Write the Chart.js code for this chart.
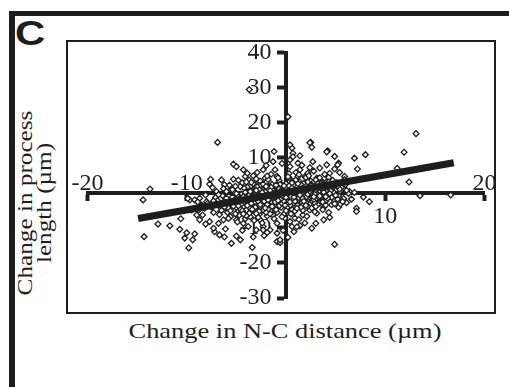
<!DOCTYPE html>
<html>
<head>
<meta charset="utf-8">
<script src="https://cdn.jsdelivr.net/npm/chart.js@4.4.1/dist/chart.umd.min.js"></script>
<style>
html,body{margin:0;padding:0;background:#fff;width:509px;height:387px;overflow:hidden;}
.ink{background:#1e1e1e;position:absolute;}
#frameTop{left:9px;top:11px;width:500px;height:5px;}
#frameLeft{left:9px;top:11px;width:6px;height:376px;}
#box{position:absolute;left:66px;top:40px;width:426px;height:270px;border:2px solid #1e1e1e;}
#panel{position:absolute;left:15.2px;top:15.4px;font:bold 35px "Liberation Sans",Arial,sans-serif;line-height:35px;color:#1e1e1e;transform:scaleX(1.2);transform-origin:0 0;}
#xtitle{position:absolute;left:284.5px;top:330.8px;font:22px "Liberation Serif","Times New Roman",serif;line-height:22px;white-space:nowrap;color:#1e1e1e;transform:translate(-50%,-50%) scaleX(1.2);}
#ytitle{position:absolute;left:34.7px;top:202.5px;font:21px "Liberation Serif","Times New Roman",serif;line-height:19px;white-space:nowrap;text-align:center;color:#1e1e1e;transform:translate(-50%,-50%) rotate(-90deg) scaleX(1.2);}
#c{position:absolute;left:0;top:0;}
</style>
</head>
<body>
<div id="frameTop" class="ink"></div>
<div id="frameLeft" class="ink"></div>
<div id="box"></div>
<div id="panel">C</div>
<div id="ytitle">Change in process<br>length (µm)</div>
<div id="xtitle">Change in N-C distance (µm)</div>
<canvas id="c" width="509" height="387"></canvas>
<script>
// Change in N-C distance (x) vs change in process length (y)
const ptsX = [
 -3.7, 0.2, 13.1, -6.9, 11.9, 8.0, 6.9, 11.2, 12.4, 13.5, 16.6, -13.7, -14.4, -14.3, -9.8, 4.9,
 -12.9, -11.7, -10.7, 8.4, 7.1, -10.6, -10.0, -10.2, -9.2, -9.4, -8.7, -8.4, -7.7, -7.2, -6.7, -6.2,
 -5.5, -5.0, -4.6, -3.4, -2.2, -0.9, -0.9, -1.2, -5.3, -5.0, -4.3, -2.3, -1.1, -7.6, -7.7, -6.5,
 -6.2, -5.3, -4.1, -3.3, -2.6, -5.6, -7.0, -9.7, -9.9, -9.2, -8.7, -8.9, -8.0, -9.5, -8.8, -8.2,
 -7.2, -6.6, -6.0, -5.6, -6.3, -6.8, -5.0, -4.3, -3.8, -3.0, -2.3, -1.6, -4.6, -3.6, -2.6, -3.6,
 -4.3, -2.8, -1.9, -1.3, -0.9, -4.6, -3.6, -3.0, -2.1, -1.6, -0.9, -0.6,
 7.2, 4.9, 5.3, 4.2, 2.5, 2.6, 1.4, 0.6, 0.7, 2.7, 4.1, 4.9, 5.4, 5.9, 6.4, 6.9,
 7.8, 7.1, 6.1, 5.3, 4.6, 4.4, 3.8, 3.1, 2.6, 1.4, 0.6, -0.1, 0.9, 2.4, -0.6, 4.4,
 5.4, 3.8, 4.8, 3.1, 2.2, 1.4, 0.4, 1.2, 3.4, 4.4, 2.7, 3.4, 1.7, 0.7, 0.1, 1.7,
 3.8, 0.4, -0.6, -2.3, 1.1, 0.4, 0.7, 2.4, 4.1, 5.2,
 -7.5, -7.1, -6.8, -6.4, -6.1, -5.9, -5.7, -5.4, -5.2, -5.0, -4.8, -4.7, -4.5, -4.4, -4.2, -4.0,
 -3.9, -3.8, -3.7, -3.5, -3.4, -3.3, -3.1, -3.0, -2.9, -2.8, -2.7, -2.6, -2.5, -2.4, -2.3, -2.2,
 -2.1, -2.0, -1.9, -1.8, -1.7, -1.6, -1.5, -1.4, -1.3, -1.2, -1.1, -1.0, -0.9, -0.8, -0.7, -0.6,
 -0.5, -0.4, -0.3, -0.2, -0.1, 0.0, 0.1, 0.2, 0.3, 0.4, 0.5, 0.6, 0.7, 0.8, 0.9, 1.0,
 1.1, 1.2, 1.3, 1.4, 1.5, 1.6, 1.7, 1.8, 1.9, 2.0, 2.1, 2.2, 2.3, 2.4, 2.5, 2.6,
 2.7, 2.8, 2.9, 3.0, 3.1, 3.2, 3.3, 3.4, 3.5, 3.6, 3.7, 3.9, 4.0, 4.1, 4.3, 4.5,
 4.7, 4.9, 5.1, 5.3, 5.6, 5.8, 6.0, 6.3,
 -3.6, -2.9, -2.2, -1.5, -0.8, -0.1, 0.6, 1.3, 2.0, -4.1, -3.2, -2.4, -1.7, -1.0, -0.3, 0.4,
 1.1, 1.8, 2.5, 3.2, -5.5, -4.9, -4.3, -3.7, -3.0, -2.6, -1.9, -1.3, -0.6, 0.1, 0.8, 1.5,
 2.2, 2.9, 3.6, 4.2, -6.7, -6.0, -5.3, -4.6, -3.9, -3.3, -2.7, -2.0, -1.4, -0.7, 0.0, 0.7,
 1.4, 2.1, 2.8, 3.5, 4.6, 5.0, -7.9, -7.3, -6.9, -8.1, -6.3, -5.8, -4.9, -4.1, -3.2, -2.4,
 -1.2, -0.4, 0.5, 1.3, 2.1, 2.9, 3.7, 4.3, 5.5, 6.6, 5.9, 4.7, 3.9, 2.4, 1.6, 0.4,
 -0.4, -1.3, -2.0, -2.9, -3.9, -4.8, -5.7, -6.8, -7.4, -8.5, -9.0, -8.1, -7.3, -6.1, -4.4, -3.3,
 -1.9, -0.3, 0.8, 1.9, 3.0, 0.2,
 -3.4, -3.1, -2.8, -2.5, -2.3, -2.0, -1.8, -1.6, -1.4, -1.2, -1.0, -0.8, -0.6, -0.4, -0.2, 0.0,
 0.2, 0.4, 0.6, 0.8, 1.0, 1.2, 1.4, 1.6, 1.8, 2.0, 2.2, 2.4, 2.6, 2.8, 3.0, 3.2,
 3.4, 3.6, 3.8, 4.0, 4.2, 4.4, 4.8, 5.2,
 -4.4, -4.0, -3.6, -3.2, -2.9, -2.6, -2.3, -2.0, -1.7, -1.4, -1.1, -0.8, -0.5, -0.2, 0.1, 0.4,
 0.7, 1.0, 1.3, 1.6, 1.9, 2.2, 2.5, 2.8, 3.1, 3.4, 3.7, 4.1,
 -5.1, -4.6, -5.8, -6.4, -5.4, -4.2, -3.5, -1.8, 0.3, 1.2, 2.0, 3.0, -0.9, 0.9, 2.6, -2.8,
 -1.6, -4.0,
 -4.5, -4.3, -4.1, -3.9, -3.7, -3.5, -3.3, -3.1, -2.9, -2.7, -2.5, -2.3, -2.1, -1.9, -1.7, -1.5,
 -1.3, -1.1, -0.9, -0.7, -0.5, -0.3, -0.1, 0.1, 0.3, 0.5, 0.7, 0.9, 1.1, 1.3, 1.5, 1.7,
 1.9, 2.1, 2.3, 2.5, 2.7, 2.9, 3.1, 3.3, 3.5, 3.7, 3.9, 4.1, 4.3, 4.5,
 -5.3, -5.0, -4.8, -4.6, -4.4, -4.2, -3.9, -3.6, -3.4, -3.2, -3.0, -2.8, -2.6, -2.4, -2.2, -2.0,
 -1.8, -1.6, -1.4, -1.2, -1.0, -0.8, -0.6, -0.4, -0.2, 0.0, 0.2, 0.4, 0.6, 0.8, 1.0, 1.2,
 1.4, 1.6, 1.8, 2.0, 2.2, 2.4, 2.6, 2.8, 3.0, 3.2, 3.4, 3.6, 3.8, 4.0, 4.4, 4.6, 5.0, 5.4,
 -6.2, -5.9, -5.6, -6.5, -7.0, -7.3, -5.1, -4.3, -3.0, -2.1, -1.0, 0.0, 1.1, 2.0, 3.0, 4.0,
 4.9, 5.7, 6.1, 5.2, 4.3, 3.4, 2.3, 1.3, 0.2, -0.8, -1.9, -3.0, -4.0, -5.1, -6.0
];
const ptsY = [
 29.5, 21.7, 16.9, 14.4, 11.6, 10.9, 9.9, 7.0, 3.1, -0.8, -0.6, 1.1, -2.0, -12.5, -15.7, -14.7,
 -8.9, -9.4, -10.4, -2.5, -4.4, -7.4, -11.4, -12.9, -11.7, -13.4, -7.7, -6.3, -8.2, -11.1, -12.0, -12.6,
 -14.4, -12.3, -13.4, -15.6, -12.2, -11.5, -13.9, 11.8, 8.2, 7.5, 6.6, 6.6, 6.6, 3.9, 2.5, 3.7,
 2.3, 3.9, 4.7, 4.9, 3.4, 0.9, 0.4, -2.0, -1.6, -2.0, -1.5, -2.6, -2.5, -4.9, -4.9, -4.4,
 -2.9, -5.3, -4.4, -6.8, -7.7, -8.7, -7.7, -8.7, -9.6, -10.6, -9.6, -10.6, -5.8, -6.8, -7.7, -3.9,
 -3.4, -3.4, -3.9, -6.3, -8.7, 1.8, 1.8, 2.3, 4.2, 2.8, 4.7, 2.8,
 6.8, 10.4, 8.5, 12.0, 14.4, 13.0, 10.6, 12.8, 11.3, 8.9, 8.0, 6.8, 5.8, 4.7, 0.4, 0.1,
 -1.2, -5.3, -2.8, -4.1, -3.4, -7.0, -4.1, -5.8, -10.1, -9.4, -9.6, -7.2, -7.2, -4.9, -14.2, -1.1,
 0.4, 2.8, 2.3, 4.2, 5.6, 6.6, 7.5, 8.5, 7.1, 5.6, -2.0, -2.9, -3.4, -4.4, -5.8, -6.3,
 -7.7, -8.2, -13.4, -10.6, -9.7, 13.7, 10.3, 14.3, 11.7, 8.0,
 -4.1, -1.3, -3.6, -0.8, -2.1, -5.6, -3.0, -1.2, 0.3, -4.2, -2.5, -6.4, -0.4, 2.9, -1.6, -4.9,
 0.6, -2.7, 3.6, -5.3, -0.9, -3.5, 1.2, -1.9, -4.4, 0.1, -6.1, 2.0, -2.4, -0.5, -5.0, 1.5,
 -3.1, 3.0, -1.2, -4.6, 0.7, -2.2, 5.3, -0.1, -3.6, 1.9, -5.1, -1.5, 0.9, -2.8, 3.5, -0.6,
 -4.1, 1.6, -1.9, -6.0, 0.3, 2.6, -3.0, -0.9, 4.3, -2.2, 1.1, -4.8, 0.0, 2.2, -1.6, 5.8,
 -3.4, 0.8, -0.7, 3.1, -2.5, 1.7, -5.0, 0.2, 4.6, -1.3, 2.6, -3.8, 0.9, -0.4, 3.4, -2.3,
 1.5, 6.2, -1.0, 0.3, 2.2, -3.3, 4.1, -0.6, 1.2, -1.9, 3.0, 0.1, -2.4, 1.8, 4.4, -0.3,
 1.0, -2.0, 2.9, -0.8, 1.5, -1.6, 2.4, -0.2,
 -1.4, -2.1, -1.6, -0.9, -0.2, -1.2, 0.5, 0.1, 0.6, -2.0, 0.4, 1.0, -3.2, 0.2, -2.6, 1.9,
 -1.1, 1.3, -1.5, 0.9, -2.6, -0.7, -3.9, -5.8, -3.7, -0.9, -6.6, -2.0, 2.4, -4.2, -2.9, -4.1,
 2.0, -2.9, 2.5, 0.6, -6.2, -1.5, -3.8, -1.4, 1.6, 2.6, -5.2, -0.2, 2.4, -3.7, -2.1, 3.3,
 -1.8, -0.6, 1.0, -1.2, -1.3, 0.7, -3.0, -5.6, -2.2, -0.6, 1.2, -7.3, -8.3, -7.4, -7.9, -8.6,
 -7.4, -6.8, -6.0, -7.6, -6.7, -5.4, -4.8, -5.6, -3.2, -1.8, 3.8, 3.6, 5.3, 7.2, 7.9, 9.4,
 8.4, 8.9, 7.8, 5.8, 5.6, 3.6, 2.2, -0.5, 1.5, -3.5, -6.3, -8.9, -10.1, -10.3, -10.7, -12.6,
 -11.3, -10.7, -11.1, -8.6, -8.7, -12.7,
 -2.2, -0.3, -1.4, 0.6, -3.6, -1.0, 1.2, -0.5, -2.7, 0.4, -1.9, 1.5, -1.0, -3.0, 0.9, -0.6,
 1.5, -1.4, 2.8, -0.4, 0.9, -2.1, 1.9, -0.2, 2.7, -2.7, 0.1, 1.8, 0.4, -1.9, 1.6, -0.2,
 2.0, 0.4, -0.9, 2.2, -1.5, 1.3, 0.2, -1.8,
 -2.9, -0.9, -4.4, -2.8, 1.7, -4.0, 2.5, -5.6, -1.4, 1.0, -4.0, -1.3, 0.6, -2.4, 1.2, -0.3,
 -2.0, 3.7, -1.4, 0.7, -0.9, 3.1, -0.8, 2.2, -1.5, 0.6, -2.6, 3.2,
 -1.9, -4.6, -4.3, -3.1, 0.9, 1.3, 3.0, 3.8, 5.5, 4.7, 4.4, 3.7, -5.6, -5.2, -4.3, -7.0,
 -6.0, -6.5,
 -3.2, -1.1, 0.2, -2.4, -0.6, -3.0, -1.6, -4.1, -0.8, 0.9, -2.9, -1.2, 0.3, -3.3, -0.2, 1.6,
 -1.1, -2.6, -0.4, 1.1, -1.7, 0.2, -3.5, -0.4, 2.0, -1.1, 0.8, -2.4, 1.6, -0.3, 2.4, -1.6,
 0.6, -1.1, 1.3, -0.1, 2.8, -0.3, 1.0, -1.2, 2.6, 0.8, 1.7, -0.7, 2.0, 0.6,
 -2.3, -0.2, -3.7, -1.9, -5.1, -2.6, -3.6, 0.4, -4.7, -1.0, 0.7, -2.4, -3.4, 0.1, -2.4, 1.8,
 -2.0, 0.6, -3.9, -0.7, 2.2, -2.2, 0.4, -0.8, 2.0, -1.3, 0.6, -2.6, 1.4, -1.2, 0.2, 2.6,
 -0.6, 1.2, -2.4, 1.9, -0.4, 0.5, 2.2, -1.1, 0.9, 2.6, -0.9, 1.4, 0.2, -1.1, -0.2, 1.9, -0.7, 1.1,
 -4.0, -2.8, -5.1, -5.0, -3.1, -2.3, -6.0, -6.0, -5.9, -4.3, -4.8, -5.1, -4.4, -3.6, -3.9, -3.5,
 -3.1, -2.5, 0.7, 2.0, 3.1, 4.3, 4.9, 5.2, 4.6, 4.3, 4.8, 4.0, 3.1, 1.9, 0.4
];
// fitted regression line end points
const trendX = [-14.9, 16.9];
const trendY = [-7.3, 8.6];
// tick labels
const xTicksAbove = [-20, -10, 20];
const xTicksBelow = [10];
const yTickLabels = [-30, -20, -10, 10, 20, 30, 40];

const ink = '#1e1e1e';
const tickFont = {family: '"Liberation Serif","Times New Roman",serif', size: 24};

const pts = ptsX.map((x, i) => ({x: x, y: ptsY[i]}));
const trend = trendX.map((x, i) => ({x: x, y: trendY[i]}));

new Chart(document.getElementById('c'), {
  type: 'scatter',
  data: {
    datasets: [
      {type: 'line', data: trend, borderColor: ink, borderWidth: 7, pointRadius: 0,
       borderCapStyle: 'butt', order: 0, xAxisID: 'x', yAxisID: 'y'},
      {data: pts, pointStyle: 'rectRot', pointRadius: 2.9, borderWidth: 1.3,
       borderColor: ink, backgroundColor: '#ffffff', order: 1, xAxisID: 'x', yAxisID: 'y'}
    ]
  },
  options: {
    responsive: false, animation: false, devicePixelRatio: 1,
    layout: {padding: {left: 87.5, right: 24.5, top: 52.7, bottom: 89}},
    plugins: {legend: {display: false}, tooltip: {enabled: false}},
    scales: {
      x: {type: 'linear', axis: 'x', position: {y: 0}, min: -20, max: 20,
          ticks: {stepSize: 10, autoSkip: false, maxRotation: 0, padding: 3, font: tickFont, color: ink,
                  callback: v => xTicksBelow.includes(v) ? String(v) : ''},
          grid: {drawOnChartArea: false, drawTicks: true, tickLength: 6, tickWidth: 4, tickColor: ink},
          border: {display: true, width: 4, color: ink}},
      xTop: {type: 'linear', axis: 'x', position: {y: 0}, min: -20, max: 20,
          ticks: {stepSize: 10, autoSkip: false, maxRotation: 0, padding: -24, font: tickFont, color: ink,
                  callback: v => xTicksAbove.includes(v) ? String(v) : ''},
          grid: {display: false, drawOnChartArea: false, drawTicks: false},
          border: {display: false}},
      y: {type: 'linear', axis: 'y', position: {x: 0}, min: -30, max: 40,
          ticks: {stepSize: 10, autoSkip: false, padding: 0, color: ink, callback: () => ''},
          grid: {drawOnChartArea: false, drawTicks: true, tickLength: 7, tickWidth: 4, tickColor: ink},
          border: {display: true, width: 4, color: ink}},
      // label-only axis: placed just left of the y axis so the labels sit beside the tick marks
      yLab: {type: 'linear', axis: 'y', position: {x: -1.45}, min: -30, max: 40,
          ticks: {stepSize: 10, autoSkip: false, padding: 0, font: tickFont, color: ink,
                  callback: v => yTickLabels.includes(v) ? String(v) : ''},
          grid: {display: false, drawOnChartArea: false, drawTicks: false},
          border: {display: false}}
    }
  }
});
</script>
</body>
</html>
